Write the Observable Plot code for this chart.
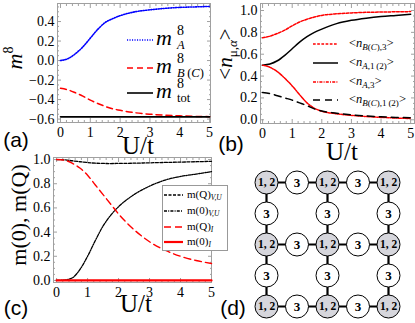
<!DOCTYPE html>
<html><head><meta charset="utf-8">
<script src="https://cdn.jsdelivr.net/npm/d3@7"></script>
<script src="https://cdn.jsdelivr.net/npm/@observablehq/plot@0.6"></script>
<style>
body{margin:0;background:#fff;}
#root{position:relative;width:415px;height:323px;overflow:hidden;font-family:"Liberation Serif","Times New Roman",serif;color:#000;}
#root > svg{position:absolute;overflow:visible;}
.abs{position:absolute;white-space:nowrap;line-height:1;}
.ctr{transform:translate(-50%,-50%);}
.rot{transform:translate(-50%,-50%) rotate(-90deg);}
.sans{font-family:"Liberation Sans",Arial,sans-serif;}
</style></head><body><div id="root"></div>
<script>
// ---------- data ----------
const U = [0,0.25,0.5,0.75,1,1.25,1.5,1.75,2,2.5,3,3.5,4,4.5,5];
// panel (a)
const mA   = [0.00,0.02,0.07,0.14,0.23,0.32,0.39,0.43,0.46,0.50,0.52,0.535,0.545,0.55,0.555];
const mBC  = [-0.285,-0.30,-0.33,-0.365,-0.405,-0.44,-0.47,-0.495,-0.51,-0.535,-0.55,-0.56,-0.567,-0.572,-0.575];
const mTot = [-0.577,-0.577,-0.577,-0.577,-0.577,-0.577,-0.577,-0.577,-0.577,-0.577,-0.577,-0.577,-0.577,-0.577,-0.577];
// panel (b)
const nBC3  = [0.75,0.765,0.79,0.82,0.86,0.895,0.92,0.94,0.955,0.97,0.978,0.983,0.986,0.988,0.99];
const nA12  = [0.50,0.51,0.54,0.59,0.65,0.71,0.76,0.80,0.83,0.88,0.91,0.93,0.945,0.955,0.965];
const nA3   = [0.50,0.48,0.44,0.38,0.31,0.23,0.155,0.105,0.078,0.055,0.04,0.03,0.022,0.016,0.012];
const nBC12 = [0.25,0.24,0.22,0.20,0.18,0.155,0.13,0.10,0.08,0.06,0.045,0.035,0.028,0.022,0.018];
// panel (c)
const mQVU = [1.0,0.998,0.99,0.982,0.975,0.97,0.968,0.967,0.968,0.97,0.973,0.976,0.979,0.982,0.985];
const m0VU = [0.0,0.003,0.02,0.09,0.20,0.33,0.45,0.54,0.61,0.71,0.78,0.83,0.86,0.88,0.90];
const mQI  = [1.0,0.995,0.97,0.93,0.87,0.79,0.71,0.63,0.55,0.42,0.32,0.25,0.20,0.165,0.14];
const m0I  = [0,0,0,0,0,0,0,0,0,0,0,0,0,0,0];
// ticks
const xTicks = [0,1,2,3,4,5];
const xMinor = [0.2,0.4,0.6,0.8,1.2,1.4,1.6,1.8,2.2,2.4,2.6,2.8,3.2,3.4,3.6,3.8,4.2,4.4,4.6,4.8];
const yTicksA = [-0.6,-0.4,-0.2,0.0,0.2,0.4];
const yMinorA = [-0.55,-0.5,-0.45,-0.35,-0.3,-0.25,-0.15,-0.1,-0.05,0.05,0.1,0.15,0.25,0.3,0.35,0.45,0.5,0.55];
const yTicks01 = [0.0,0.2,0.4,0.6,0.8,1.0];
const yMinor01 = [0.05,0.1,0.15,0.25,0.3,0.35,0.45,0.5,0.55,0.65,0.7,0.75,0.85,0.9,0.95];
// panel (d) lattice
const lattice = [
  ["1, 2","3","1, 2","3","1, 2"],
  ["3","","3","","3"],
  ["1, 2","3","1, 2","3","1, 2"],
  ["3","","3","","3"],
  ["1, 2","3","1, 2","3","1, 2"]
];
const bonds = [
  {x1:0,y1:0,x2:4,y2:0},{x1:0,y1:2,x2:4,y2:2},{x1:0,y1:4,x2:4,y2:4},
  {x1:0,y1:0,x2:0,y2:4},{x1:2,y1:0,x2:2,y2:4},{x1:4,y1:0,x2:4,y2:4}
];

// ---------- helpers ----------
const root = document.getElementById("root");
const FR = "#a0a0a0";
const pts = vals => U.map((u,i)=>({u, v: vals[i]}));
const fmt1 = d3.format(".1f");
const baseStyle = {fontFamily:'"Liberation Serif","Times New Roman",serif', fontSize:"14px", background:"transparent", overflow:"visible", color:"#000"};

function frameMarks(yMajor, yMinor){
  const none = () => "";
  return [
    Plot.frame({stroke: FR}),
    Plot.axisX(xTicks, {anchor:"bottom", tickSize:-4, tickFormat:none, stroke:FR, label:null}),
    Plot.axisX(xMinor, {anchor:"bottom", tickSize:-2, tickFormat:none, stroke:FR, label:null}),
    Plot.axisX(xTicks, {anchor:"top", tickSize:-4, tickFormat:none, stroke:FR, label:null}),
    Plot.axisX(xMinor, {anchor:"top", tickSize:-2, tickFormat:none, stroke:FR, label:null}),
    Plot.axisY(yMajor, {anchor:"left", tickSize:-4, tickFormat:none, stroke:FR, label:null}),
    Plot.axisY(yMinor, {anchor:"left", tickSize:-2, tickFormat:none, stroke:FR, label:null}),
    Plot.axisY(yMajor, {anchor:"right", tickSize:-4, tickFormat:none, stroke:FR, label:null}),
    Plot.axisY(yMinor, {anchor:"right", tickSize:-2, tickFormat:none, stroke:FR, label:null}),
    Plot.axisX(xTicks, {anchor:"bottom", tickSize:0, tickPadding:5, tickFormat:d=>String(d), label:null}),
    Plot.axisY(yMajor, {anchor:"left", tickSize:0, tickPadding:3, tickFormat:fmt1, label:null})
  ];
}
function place(svg, left, top){ svg.style.left = left+"px"; svg.style.top = top+"px"; root.appendChild(svg); }
function html(s){ root.insertAdjacentHTML("beforeend", s); }
function sample(x1,x2,y,stroke,dash,w){
  return `<svg style="position:absolute;left:${x1}px;top:${y-4}px;overflow:visible" width="${x2-x1}" height="8"><line x1="0" y1="4" x2="${x2-x1}" y2="4" stroke="${stroke}" stroke-width="${w}" stroke-dasharray="${dash}"/></svg>`;
}

// ---------- series styles ----------
const sub9 = s => `<span style="font-size:9px;position:relative;top:3px">${s}</span>`;
const sub7 = s => `<span style="font-size:7.5px;position:relative;top:2px">${s}</span>`;
const sA = [
  {vals:mA,  stroke:"#0000ff", dash:"1.1,1.4", w:1.6, sub:'<i>A</i>'},
  {vals:mBC, stroke:"#ff0000", dash:"6,4", w:1.5, sub:'<i>B</i>&thinsp;(<i>C</i>)'},
  {vals:mTot,stroke:"#000000", dash:"", w:1.6, sub:'tot'}
];
const sB = [
  {vals:nBC3,  stroke:"#ff0000", dash:"2.7,1.5", w:1.5, lab:'<i>n</i>'+sub9('<i>B</i>(<i>C</i>),3')},
  {vals:nA12,  stroke:"#000000", dash:"", w:1.5, lab:'<i>n</i>'+sub9('<i>A</i>,1&thinsp;(2)')},
  {vals:nA3,   stroke:"#ff0000", dash:"3,1.2,1,1.2", w:1.5, lab:'<i>n</i>'+sub9('<i>A</i>,3')},
  {vals:nBC12, stroke:"#000000", dash:"7,5", w:1.5, lab:'<i>n</i>'+sub9('<i>B</i>(<i>C</i>),1&thinsp;(2)')}
];
const sC = [
  {vals:mQVU, stroke:"#000000", dash:"3,1.5", w:1.3, lab:'m(Q)'+sub7('<i>V,U</i>')},
  {vals:m0VU, stroke:"#000000", dash:"3,1.2,1,1.2", w:1.3, lab:'m(0)'+sub7('<i>V,U</i>')},
  {vals:mQI,  stroke:"#ff0000", dash:"7,4", w:1.4, lab:'m(Q)'+sub7('<i>I</i>')},
  {vals:m0I,  stroke:"#ff0000", dash:"", w:2.2, lab:'m(0)'+sub7('<i>I</i>')}
];
const lineMarks = ss => ss.map(s => Plot.line(pts(s.vals), {x:"u", y:"v", stroke:s.stroke, strokeWidth:s.w, strokeDasharray:s.dash||null, curve:"monotone-x"}));

// ---------- panel (a) ----------
place(Plot.plot({
  width:213, height:160, marginLeft:57, marginRight:3, marginTop:3, marginBottom:38,
  x:{domain:[-0.1,5.03], label:null}, y:{domain:[-0.635,0.585], label:null},
  style: baseStyle,
  marks:[...frameMarks(yTicksA, yMinorA), ...lineMarks(sA)]
}), 0, 0);

// ---------- panel (b) ----------
place(Plot.plot({
  width:210, height:160, marginLeft:55, marginRight:1, marginTop:3, marginBottom:37,
  x:{domain:[-0.07,5.13], label:null}, y:{domain:[-0.034,1.064], label:null},
  style: baseStyle,
  marks:[...frameMarks(yTicks01, yMinor01), ...lineMarks(sB)]
}), 205, 0);

// ---------- panel (c) ----------
place(Plot.plot({
  width:214, height:168, marginLeft:53, marginRight:3, marginTop:2, marginBottom:41,
  x:{domain:[-0.1,5.0], label:null}, y:{domain:[-0.017,1.017], label:null},
  style: baseStyle,
  marks:[...frameMarks(yTicks01, yMinor01), ...lineMarks(sC)]
}), 0, 155);

// ---------- panel (d) ----------
const sites = [];
lattice.forEach((row,j)=>row.forEach((lab,i)=>{ if(lab) sites.push({i,j,lab}); }));
place(Plot.plot({
  width:202, height:163, marginLeft:53, marginRight:27, marginTop:22, marginBottom:17,
  x:{domain:[0,4], axis:null}, y:{domain:[0,4], axis:null, reverse:true},
  style: baseStyle,
  marks:[
    Plot.link(bonds, {x1:"x1", y1:"y1", x2:"x2", y2:"y2", stroke:"#000", strokeWidth:2.2}),
    Plot.dot(sites.filter(d=>d.lab!=="3"), {x:"i", y:"j", r:11.5, fill:"#d6d6dc", stroke:"#000", strokeWidth:1}),
    Plot.dot(sites.filter(d=>d.lab==="3"), {x:"i", y:"j", r:11.5, fill:"#fff", stroke:"#000", strokeWidth:1}),
    Plot.text(sites.filter(d=>d.lab!=="3"), {x:"i", y:"j", text:"lab", fontWeight:"bold", fontSize:11.5, fill:"#000"}),
    Plot.text(sites.filter(d=>d.lab==="3"), {x:"i", y:"j", text:"lab", fontWeight:"bold", fontSize:13, fill:"#000"})
  ]
}), 213, 160);

// ---------- legends ----------
const legAy = [40, 68, 93];
sA.forEach((s,k)=>{
  const y = legAy[k];
  html(sample(127,153,y,s.stroke,s.dash,s.w));
  html(`<div class="abs" style="left:156px;top:${y-13.5}px;font-size:22px;font-style:italic">m</div>`);
  html(`<div class="abs" style="left:177px;top:${y-16.5}px;font-size:14px">8</div>`);
  html(`<div class="abs" style="left:177px;top:${y-1.5}px;font-size:12.5px">${s.sub}</div>`);
});
const legBy = [44, 63, 82, 100];
sB.forEach((s,k)=>{
  const y = legBy[k];
  html(sample(313,338,y,s.stroke,s.dash,s.w));
  html(`<div class="abs" style="left:349px;top:${y-7}px;font-size:12.5px">&lt;${s.lab}&gt;</div>`);
});
html(`<div class="abs" style="left:162px;top:185px;width:64px;height:64px;background:#fff;border:1px solid #999"></div>`);
const legCy = [195, 211, 227, 242];
sC.forEach((s,k)=>{
  const y = legCy[k];
  html(sample(164,183,y,s.stroke,s.dash,s.w));
  html(`<div class="abs" style="left:187px;top:${y-6}px;font-size:11px">${s.lab}</div>`);
});

// ---------- axis titles and panel tags ----------
html(`<div class="abs rot" style="left:15px;top:58px;font-size:22px"><i>m</i><span style="font-size:14px;position:relative;top:-9px">8</span></div>`);
html(`<div class="abs rot" style="left:225px;top:54px;font-size:21px">&lt;<i>n</i><span style="font-size:13px;position:relative;top:5px">μ<i>,α</i></span>&gt;</div>`);
html(`<div class="abs rot" style="left:19px;top:215px;font-size:22px">m(0), m(Q)</div>`);
html(`<div class="abs ctr" style="left:138px;top:145px;font-size:25px">U/t</div>`);
html(`<div class="abs ctr" style="left:342px;top:151px;font-size:25px">U/t</div>`);
html(`<div class="abs ctr" style="left:136px;top:303px;font-size:25px">U/t</div>`);
html(`<div class="abs ctr sans" style="left:16px;top:139px;font-size:21px">(a)</div>`);
html(`<div class="abs ctr sans" style="left:231px;top:143px;font-size:21px">(b)</div>`);
html(`<div class="abs ctr sans" style="left:16px;top:307px;font-size:21px">(c)</div>`);
html(`<div class="abs ctr sans" style="left:233px;top:307px;font-size:21px">(d)</div>`);
</script></body></html>
